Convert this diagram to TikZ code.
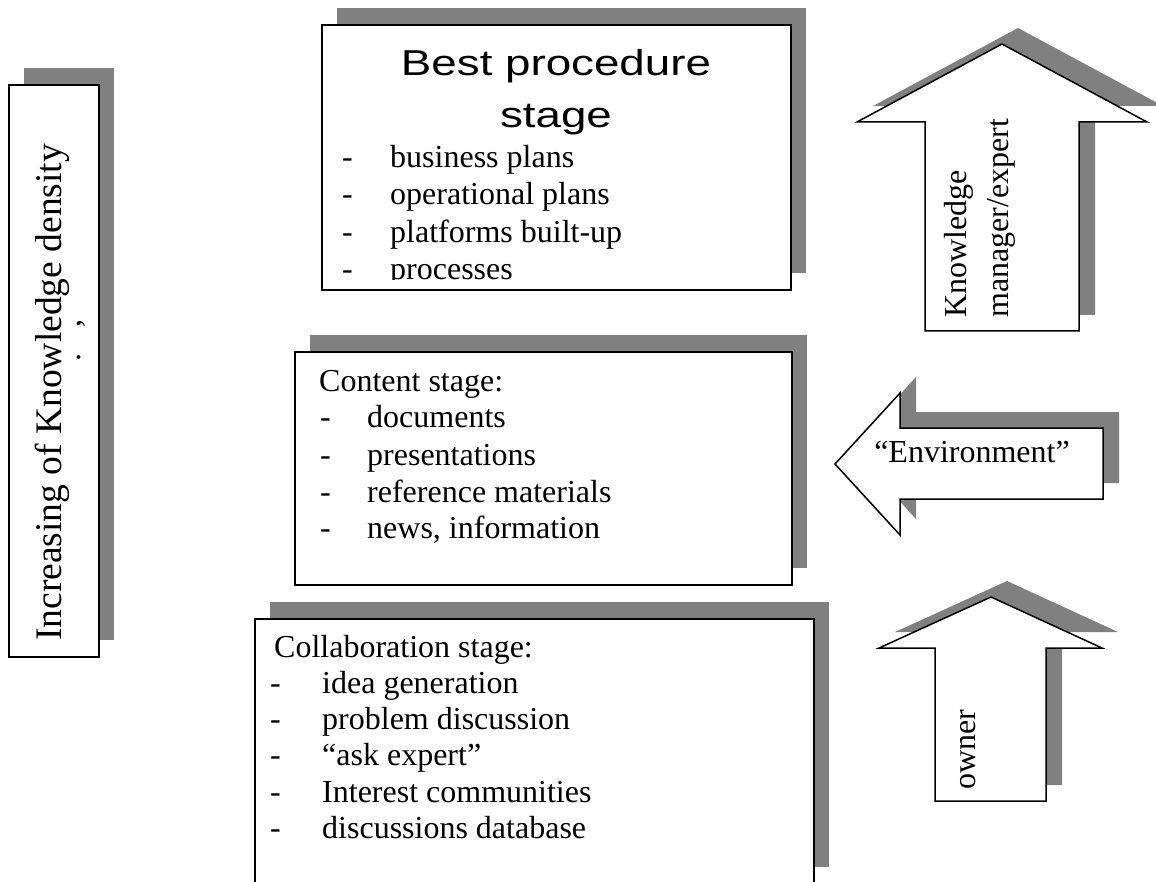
\documentclass[tikz,border=0pt]{standalone}
\usepackage{graphicx}
\usepackage{fontspec}
\setmainfont{Liberation Serif}
\newfontfamily\headfont{Liberation Sans}
\definecolor{shadowgray}{RGB}{128,128,128}
\begin{document}
\begin{tikzpicture}[x=1pt,y=-1pt,
  shadowbox/.style={fill=shadowgray, draw=none, inner sep=0pt, anchor=north west},
  panel/.style={draw=black, line width=1.8pt, fill=white, inner sep=0pt, anchor=north west},
  outline/.style={draw=black, line width=1.5pt, fill=white, line join=miter},
  shadowarrow/.style={fill=shadowgray, draw=none},
  body/.style={font=\fontsize{32}{36}\selectfont, inner sep=0pt, anchor=base west},
  vert/.style={body, rotate=90},
  headline/.style={font=\headfont\fontsize{36}{41}\selectfont, inner sep=0pt, anchor=base}
]
\useasboundingbox (0,0) rectangle (1156,882);
\clip (0,0) rectangle (1156,882);

% ---------- knowledge density column ----------
\node[shadowbox, minimum width=90pt, minimum height=572pt] (densityshadow) at (24,68) {};
\node[panel, minimum width=90pt, minimum height=572pt] (density) at (8,84) {};
\node[vert, font=\fontsize{37.5}{43}\selectfont] (densitytext) at (61,641) {Increasing of Knowledge density};
\node[vert] (densitymarks) at (80,362) {.\hspace{26pt},};

% ---------- best procedure stage ----------
\node[shadowbox, minimum width=469pt, minimum height=265pt] (bestshadow) at (337,8) {};
\node[panel, minimum width=469pt, minimum height=265pt] (best) at (321,24) {};
\node[headline] (besttitleA) at (556,76) {\scalebox{1.27}[1]{Best procedure}};
\node[headline] (besttitleB) at (556,128) {\scalebox{1.27}[1]{stage}};
\begin{scope}
  \clip (321,24) rectangle (790,280);
  \node[body] (bestdashA) at (342,168) {-};
  \node[body] (bestitemA) at (390,168) {business plans};
  \node[body] (bestdashB) at (342,205) {-};
  \node[body] (bestitemB) at (390,205) {operational plans};
  \node[body] (bestdashC) at (342,243) {-};
  \node[body] (bestitemC) at (390,243) {platforms built-up};
  \node[body] (bestdashD) at (342,280) {-};
  \node[body] (bestitemD) at (390,280) {processes};
\end{scope}

% ---------- content stage ----------
\node[shadowbox, minimum width=497pt, minimum height=233pt] (contentshadow) at (310,335) {};
\node[panel, minimum width=497pt, minimum height=233pt] (content) at (294,351) {};
\node[body] (contenthead) at (319,391) {Content stage:};
\node[body] (contentdashA) at (320,427) {-};
\node[body] (contentitemA) at (367,427) {documents};
\node[body] (contentdashB) at (320,465) {-};
\node[body] (contentitemB) at (367,465) {presentations};
\node[body] (contentdashC) at (320,502) {-};
\node[body] (contentitemC) at (367,502) {reference materials};
\node[body] (contentdashD) at (320,538) {-};
\node[body] (contentitemD) at (367,538) {news, information};

% ---------- collaboration stage ----------
\node[shadowbox, minimum width=559pt, minimum height=265pt] (collabshadow) at (270,602) {};
\node[panel, minimum width=559pt, minimum height=265pt] (collab) at (254,618) {};
\node[body] (collabhead) at (274,657) {Collaboration stage:};
\node[body] (collabdashA) at (270,693) {-};
\node[body] (collabitemA) at (322,693) {idea generation};
\node[body] (collabdashB) at (270,729) {-};
\node[body] (collabitemB) at (322,729) {problem discussion};
\node[body] (collabdashC) at (270,765) {-};
\node[body] (collabitemC) at (322,765) {``ask expert''};
\node[body] (collabdashD) at (270,802) {-};
\node[body] (collabitemD) at (322,802) {Interest communities};
\node[body] (collabdashE) at (270,838) {-};
\node[body] (collabitemE) at (322,838) {discussions database};

% ---------- block arrow: knowledge manager / expert ----------
\fill[shadowarrow, shift={(16,-16)}]
  (1002,44) -- (1147,122) -- (1079,122) -- (1079,331) -- (925,331) -- (925,122) -- (857,122) -- cycle;
\draw[outline]
  (1002,44) -- (1147,122) -- (1079,122) -- (1079,331) -- (925,331) -- (925,122) -- (857,122) -- cycle;
\node[vert] (expertA) at (966,318) {Knowledge};
\node[vert] (expertB) at (1008,318) {manager/expert};

% ---------- block arrow: environment ----------
\fill[shadowarrow, shift={(16,-16)}]
  (835,464) -- (900,393) -- (900,428) -- (1103,428) -- (1103,499) -- (900,499) -- (900,535) -- cycle;
\draw[outline]
  (835,464) -- (900,393) -- (900,428) -- (1103,428) -- (1103,499) -- (900,499) -- (900,535) -- cycle;
\node[body, anchor=base] (environment) at (972,462) {``Environment''};

% ---------- block arrow: owner ----------
\fill[shadowarrow, shift={(16,-16)}]
  (991,597) -- (1102,648) -- (1046,648) -- (1046,801) -- (935,801) -- (935,648) -- (879,648) -- cycle;
\draw[outline]
  (991,597) -- (1102,648) -- (1046,648) -- (1046,801) -- (935,801) -- (935,648) -- (879,648) -- cycle;
\node[vert] (owner) at (975,790) {owner};
\end{tikzpicture}
\end{document}
